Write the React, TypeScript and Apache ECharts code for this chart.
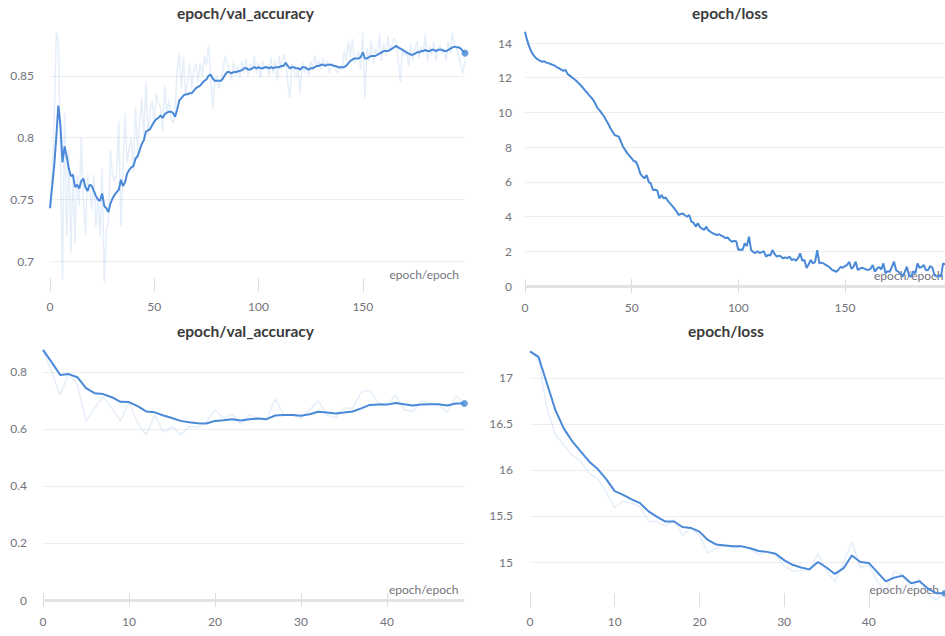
import React, { useEffect, useRef } from "react";
import * as echarts from "echarts";

// ---------- data ----------
const titles = ["epoch/val_accuracy", "epoch/loss", "epoch/val_accuracy", "epoch/loss"];
const xName = "epoch/epoch";

const xTicksTop = [0, 50, 100, 150];
const xTicksBottom = [0, 10, 20, 30, 40];
const yTicksAccTop = [0.7, 0.75, 0.8, 0.85];
const yTicksLossTop = [0, 2, 4, 6, 8, 10, 12, 14];
const yTicksAccBottom = [0, 0.2, 0.4, 0.6, 0.8];
const yTicksLossBottom = [15, 15.5, 16, 16.5, 17];

// top-left: val_accuracy, 200 epochs (raw, faint)
const accRawTop = [
  0.743, 0.772, 0.81, 0.885, 0.878, 0.79, 0.685, 0.82, 0.72, 0.79,
  0.707, 0.772, 0.715, 0.77, 0.745, 0.8, 0.75, 0.722, 0.77, 0.757,
  0.742, 0.77, 0.728, 0.752, 0.72, 0.775, 0.683, 0.725, 0.732, 0.79,
  0.77, 0.765, 0.772, 0.813, 0.728, 0.775, 0.82, 0.78, 0.792, 0.8,
  0.772, 0.825, 0.79, 0.812, 0.832, 0.8, 0.845, 0.802, 0.822, 0.83,
  0.812, 0.836, 0.828, 0.825, 0.805, 0.842, 0.82, 0.83, 0.815, 0.812,
  0.822, 0.855, 0.868, 0.84, 0.865, 0.835, 0.846, 0.86, 0.84, 0.855,
  0.86, 0.845, 0.86, 0.85, 0.866, 0.858, 0.875, 0.85, 0.824, 0.845,
  0.85, 0.84, 0.846, 0.856, 0.866, 0.86, 0.855, 0.846, 0.862, 0.85,
  0.858, 0.848, 0.862, 0.852, 0.864, 0.85, 0.86, 0.855, 0.866, 0.852,
  0.86, 0.848, 0.862, 0.855, 0.858, 0.85, 0.865, 0.852, 0.862, 0.846,
  0.866, 0.855, 0.868, 0.862, 0.845, 0.832, 0.86, 0.855, 0.848, 0.856,
  0.836, 0.862, 0.852, 0.858, 0.85, 0.862, 0.856, 0.866, 0.858, 0.862,
  0.855, 0.864, 0.858, 0.862, 0.852, 0.86, 0.858, 0.855, 0.852, 0.858,
  0.855, 0.87, 0.862, 0.878, 0.865, 0.88, 0.86, 0.866, 0.87, 0.855,
  0.885, 0.832, 0.872, 0.862, 0.878, 0.86, 0.872, 0.866, 0.884, 0.862,
  0.876, 0.866, 0.882, 0.87, 0.875, 0.88, 0.878, 0.862, 0.845, 0.872,
  0.866, 0.87, 0.858, 0.876, 0.862, 0.872, 0.878, 0.864, 0.874, 0.868,
  0.884, 0.862, 0.874, 0.866, 0.878, 0.862, 0.87, 0.875, 0.868, 0.872,
  0.862, 0.878, 0.868, 0.885, 0.874, 0.872, 0.866, 0.858, 0.852, 0.862,
];

// top-left: val_accuracy, smoothed
const accSmoothTop = [
  0.743, 0.76, 0.777, 0.8, 0.826, 0.81, 0.78, 0.793, 0.785, 0.775,
  0.769, 0.77, 0.76, 0.762, 0.759, 0.765, 0.767, 0.76, 0.757, 0.762,
  0.761, 0.757, 0.753, 0.75, 0.749, 0.755, 0.745, 0.743, 0.74, 0.747,
  0.751, 0.754, 0.756, 0.758, 0.766, 0.761, 0.764, 0.771, 0.774, 0.776,
  0.777, 0.783, 0.785, 0.79, 0.795, 0.798, 0.805, 0.806, 0.807, 0.81,
  0.813, 0.815, 0.816, 0.818, 0.816, 0.819, 0.82, 0.821, 0.821, 0.82,
  0.817, 0.823, 0.83, 0.832, 0.834, 0.835, 0.835, 0.836, 0.836, 0.838,
  0.84, 0.841, 0.842, 0.844, 0.846, 0.847, 0.85, 0.851, 0.848, 0.846,
  0.846, 0.846, 0.846, 0.848, 0.851, 0.853, 0.853, 0.852, 0.853, 0.853,
  0.8535, 0.854, 0.8545, 0.856, 0.8563, 0.855, 0.855, 0.856, 0.857, 0.856,
  0.857, 0.856, 0.856, 0.857, 0.857, 0.856, 0.857, 0.856, 0.857, 0.857,
  0.857, 0.858, 0.858, 0.8605, 0.858, 0.856, 0.857, 0.857, 0.856, 0.856,
  0.855, 0.857, 0.857, 0.856, 0.855, 0.856, 0.856, 0.857, 0.858, 0.858,
  0.859, 0.859, 0.858, 0.859, 0.859, 0.859, 0.858, 0.858, 0.857, 0.857,
  0.857, 0.857, 0.858, 0.86, 0.862, 0.863, 0.864, 0.864, 0.864, 0.865,
  0.869, 0.864, 0.864, 0.865, 0.866, 0.866, 0.866, 0.867, 0.868, 0.869,
  0.87, 0.87, 0.87, 0.871, 0.872, 0.873, 0.8742, 0.873, 0.872, 0.871,
  0.87, 0.869, 0.868, 0.867, 0.867, 0.868, 0.869, 0.869, 0.87, 0.87,
  0.871, 0.87, 0.87, 0.871, 0.871, 0.87, 0.871, 0.871, 0.871, 0.87,
  0.87, 0.871, 0.872, 0.873, 0.8736, 0.873, 0.873, 0.872, 0.87, 0.8683,
];

// top-right: loss, 200 epochs
const lossTop = [
  14.65, 14.15, 13.79, 13.5, 13.3, 13.15, 13.06, 12.98, 12.92, 12.95,
  12.87, 12.84, 12.79, 12.74, 12.69, 12.6, 12.54, 12.47, 12.4, 12.45,
  12.21, 12.12, 12.02, 11.93, 11.83, 11.7, 11.58, 11.45, 11.29, 11.15,
  11.0, 10.87, 10.71, 10.5, 10.25, 10.12, 9.95, 9.78, 9.56, 9.35,
  9.1, 8.9, 8.7, 8.65, 8.6, 8.31, 8.02, 7.83, 7.64, 7.5,
  7.35, 7.2, 7.16, 6.9, 6.49, 6.32, 6.2, 6.4, 6.0, 5.9,
  5.53, 5.55, 5.5, 5.04, 5.24, 5.05, 5.1, 4.9, 4.76, 4.62,
  4.47, 4.3, 4.09, 4.15, 4.18, 4.08, 3.99, 4.09, 3.7, 3.65,
  3.42, 3.61, 3.4, 3.3, 3.23, 3.42, 3.2, 3.12, 3.05, 2.98,
  2.94, 2.98, 2.9, 2.85, 2.75, 2.8, 2.65, 2.55, 2.6, 2.58,
  2.07, 2.1, 2.07, 2.46, 2.3, 2.84, 2.07, 1.95, 1.9, 2.0,
  1.9, 1.95, 2.0, 1.69, 1.8, 1.75, 2.07, 1.85, 1.69, 1.75,
  1.7, 1.59, 1.65, 1.6, 1.7, 1.5, 1.55, 1.45, 1.6, 1.88,
  1.45, 1.5, 1.04, 1.25, 1.5, 1.3, 1.4, 2.07, 1.3, 1.35,
  1.3, 1.21, 1.15, 1.05, 0.92, 0.88, 0.82, 0.95, 1.11, 1.05,
  1.15, 1.21, 1.4, 1.0, 1.1, 1.4, 0.92, 1.0, 1.05, 1.0,
  0.95, 0.92, 1.0, 1.21, 0.82, 1.0, 1.1, 0.95, 1.3, 0.73,
  0.85, 0.82, 1.1, 1.4, 0.9, 0.82, 0.7, 0.54, 0.8, 1.11,
  0.6, 0.54, 0.85, 0.73, 1.3, 1.05, 1.11, 1.2, 0.9, 0.92,
  1.15, 1.05, 0.62, 0.54, 0.6, 0.54, 1.3, 1.25, 1.4, 1.3,
];

// bottom-left: val_accuracy, 50 epochs
const accRawBottom = [
  0.877, 0.8, 0.719, 0.795, 0.754, 0.626, 0.672, 0.713, 0.672, 0.628,
  0.694, 0.62, 0.579, 0.649, 0.588, 0.608, 0.579, 0.608, 0.605, 0.623,
  0.667, 0.637, 0.652, 0.616, 0.649, 0.637, 0.632, 0.705, 0.649, 0.649,
  0.637, 0.667, 0.698, 0.649, 0.639, 0.672, 0.672, 0.728, 0.735, 0.69,
  0.684, 0.719, 0.667, 0.661, 0.698, 0.69, 0.686, 0.657, 0.716, 0.686,
];
const accSmoothBottom = [
  0.877, 0.834, 0.789, 0.792, 0.781, 0.743, 0.725, 0.722, 0.711, 0.695,
  0.694, 0.68, 0.661, 0.658, 0.647, 0.638, 0.628, 0.623, 0.62, 0.619,
  0.628, 0.63, 0.634, 0.629, 0.634, 0.636, 0.634, 0.647, 0.649, 0.649,
  0.646, 0.651, 0.66, 0.657, 0.654, 0.657, 0.661, 0.672, 0.684, 0.685,
  0.685, 0.691, 0.686, 0.682, 0.685, 0.686, 0.686, 0.682, 0.689, 0.689,
];

// bottom-right: loss, 50 epochs
const lossRawBottom = [
  17.29, 17.2, 16.67, 16.38, 16.27, 16.16, 16.09, 15.96, 15.91, 15.76,
  15.59, 15.66, 15.64, 15.6, 15.44, 15.44, 15.39, 15.46, 15.29, 15.37,
  15.29, 15.1, 15.15, 15.19, 15.15, 15.17, 15.14, 15.08, 15.11, 15.08,
  14.96, 14.9, 14.91, 14.91, 15.09, 14.9, 14.79, 14.99, 15.22, 14.94,
  14.97, 14.79, 14.68, 14.9, 14.86, 14.71, 14.82, 14.64, 14.59, 14.66,
];
const lossSmoothBottom = [
  17.29, 17.23, 16.94, 16.65, 16.45, 16.31, 16.2, 16.09, 16.01, 15.9,
  15.77, 15.73, 15.68, 15.64, 15.55, 15.49, 15.44, 15.44, 15.38, 15.37,
  15.33, 15.24, 15.19, 15.18, 15.17, 15.17, 15.15, 15.12, 15.11, 15.09,
  15.02, 14.97, 14.94, 14.92, 15.0, 14.94, 14.87, 14.93, 15.07, 15.0,
  14.99, 14.89, 14.79, 14.83, 14.85, 14.77, 14.79, 14.71, 14.66, 14.66,
];

// ---------- styling ----------
const BLUE = "#4a89d8";
const BLUE_FAINT = "rgba(74,137,216,0.14)";
const LABEL = "#73737c";
const FONT = "Lato";

const pairs = (arr: number[]) => arr.map((v, i) => [i, v]);
const last = (arr: number[]) => [[arr.length - 1, arr[arr.length - 1]]];

function xAxis(gridIndex: number, max: number, ticks: number[]) {
  return {
    type: "value",
    gridIndex,
    min: 0,
    max,
    offset: -7,
    axisLine: { show: false },
    axisTick: { show: true, length: 14, customValues: ticks, lineStyle: { color: "#dddddd", width: 1 } },
    axisLabel: { customValues: ticks, margin: 22, color: LABEL, fontFamily: FONT, fontSize: 12 },
    splitLine: { show: false },
    name: xName,
    nameLocation: "end",
    nameGap: -6,
    nameTextStyle: {
      align: "right",
      verticalAlign: "bottom",
      lineHeight: 8,
      color: LABEL,
      fontFamily: FONT,
      fontSize: 12,
    },
  };
}

function yAxis(gridIndex: number, min: number, max: number, ticks: number[], margin: number, interval?: number) {
  const a: any = {
    type: "value",
    gridIndex,
    min,
    max,
    axisLine: { show: false },
    axisTick: { show: false },
    axisLabel: { customValues: ticks, margin, color: LABEL, fontFamily: FONT, fontSize: 12 },
    splitLine: {
      show: true,
      showMinLine: false,
      showMaxLine: false,
      lineStyle: { color: "#eeeeee", width: 1 },
    },
  };
  if (interval !== undefined) a.interval = interval;
  return a;
}

const zeroLine = {
  silent: true,
  symbol: "none",
  label: { show: false },
  lineStyle: { color: "#e3e3e3", width: 3, type: "solid" },
  data: [{ yAxis: 0 }],
};

function lineSeries(xi: number, data: number[], faint: boolean, extra: any = {}) {
  return {
    type: "line",
    xAxisIndex: xi,
    yAxisIndex: xi,
    data: pairs(data),
    showSymbol: false,
    symbol: "none",
    lineStyle: { color: faint ? BLUE_FAINT : BLUE, width: faint ? 1.5 : 2 },
    itemStyle: { color: faint ? BLUE_FAINT : BLUE },
    z: faint ? 2 : 3,
    silent: true,
    ...extra,
  };
}

function dotSeries(xi: number, data: number[]) {
  return {
    type: "scatter",
    xAxisIndex: xi,
    yAxisIndex: xi,
    data: last(data),
    symbolSize: 7,
    itemStyle: { color: BLUE },
    z: 4,
    silent: true,
  };
}

function titleText(text: string, x: number, y: number) {
  return {
    type: "text",
    x,
    y,
    silent: true,
    style: {
      text,
      align: "center",
      verticalAlign: "middle",
      fill: "#3b3b3b",
      fontFamily: FONT,
      fontWeight: "bold",
      fontSize: 15.5,
    },
  };
}

function buildOption() {
  const gridsRaw = [
    { left: 50, right: 480, top: 30, bottom: 351 },
    { left: 525, right: -4.5, top: 30, bottom: 350 },
    { left: 43, right: 480.6, top: 349, bottom: 36 },
    { left: 530, right: 0, top: 349, bottom: 36 },
  ];
  return {
    animation: false,
    backgroundColor: "#ffffff",
    textStyle: { fontFamily: FONT },
    grid: gridsRaw.map((g) => ({ ...g, containLabel: false, outerBoundsMode: "none" })),
    xAxis: [
      xAxis(0, 199, xTicksTop),
      xAxis(1, 199, xTicksTop),
      xAxis(2, 49, xTicksBottom),
      xAxis(3, 49, xTicksBottom),
    ],
    yAxis: [
      yAxis(0, 0.681, 0.887, yTicksAccTop, 16),
      yAxis(1, 0, 14.75, yTicksLossTop, 13, 2),
      yAxis(2, 0, 0.88, yTicksAccBottom, 16, 0.2),
      yAxis(3, 14.587, 17.315, yTicksLossBottom, 17),
    ],
    series: [
      lineSeries(0, accRawTop, true),
      lineSeries(0, accSmoothTop, false),
      dotSeries(0, accSmoothTop),
      lineSeries(1, lossTop, false, { markLine: zeroLine }),
      dotSeries(1, lossTop),
      lineSeries(2, accRawBottom, true),
      lineSeries(2, accSmoothBottom, false, { markLine: zeroLine }),
      dotSeries(2, accSmoothBottom),
      lineSeries(3, lossRawBottom, true),
      lineSeries(3, lossSmoothBottom, false),
      dotSeries(3, lossSmoothBottom),
    ],
    graphic: [
      titleText(titles[0], 245.5, 13),
      titleText(titles[1], 730, 13),
      titleText(titles[2], 245.5, 331),
      titleText(titles[3], 726, 331),
    ],
  };
}

export default function App() {
  const ref = useRef<HTMLDivElement>(null);
  useEffect(() => {
    if (!ref.current) return;
    const chart = echarts.init(ref.current, undefined, { renderer: "svg" });
    chart.setOption(buildOption() as any);
    return () => chart.dispose();
  }, []);
  return (
    <div
      ref={ref}
      style={{ position: "fixed", left: 0, top: 0, width: 945, height: 636, background: "#fff" }}
    />
  );
}
